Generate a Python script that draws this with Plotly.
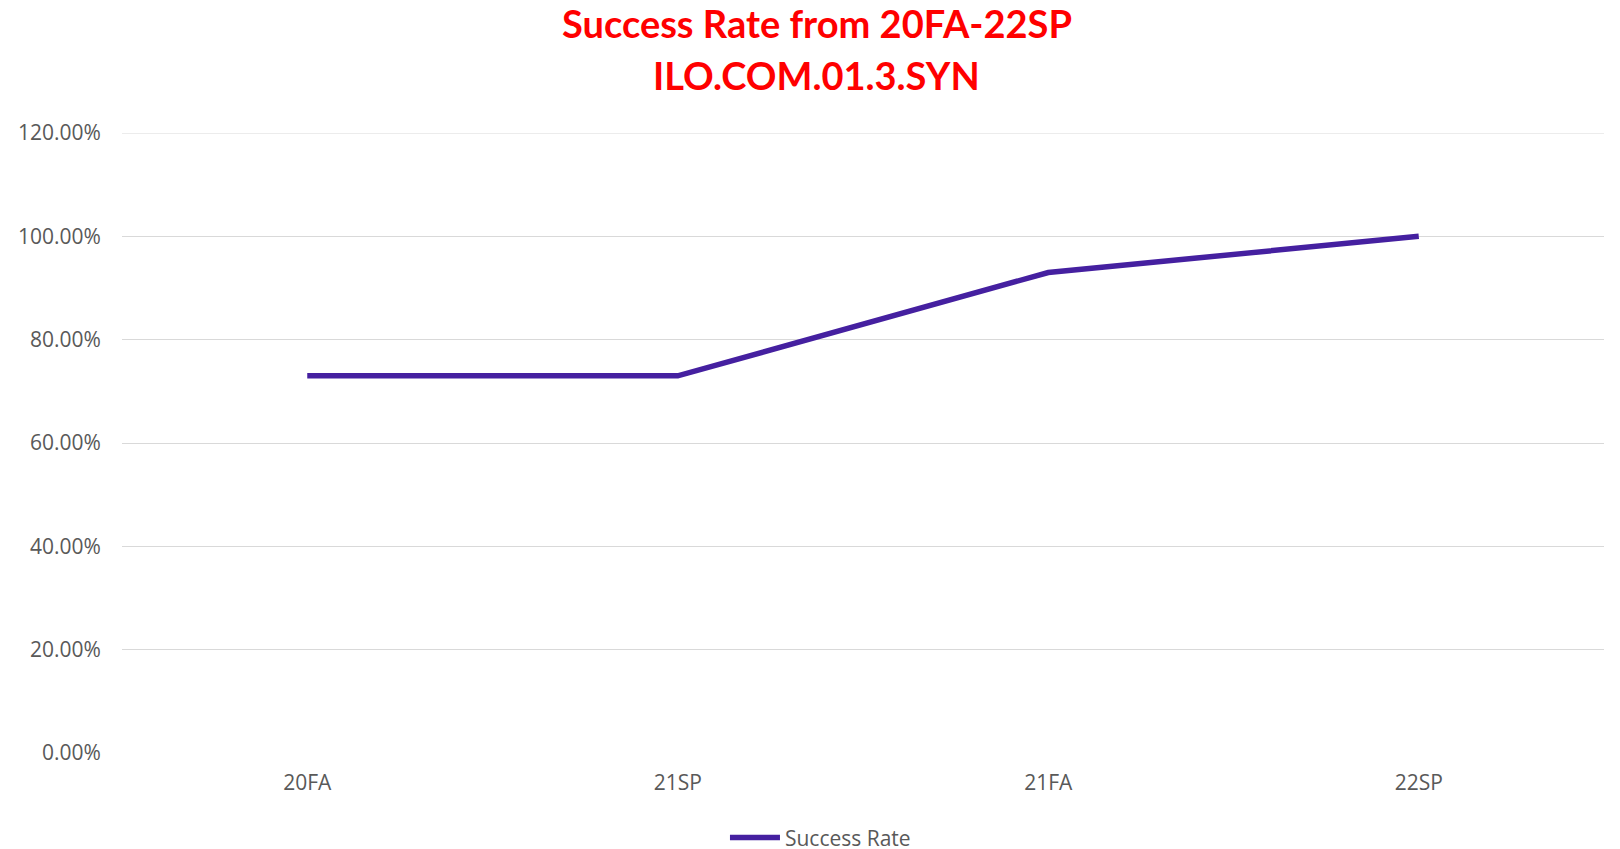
import plotly.graph_objects as go

terms = ["20FA", "21SP", "21FA", "22SP"]
success_rate = [0.73, 0.73, 0.93, 1.00]
y_ticks = [0, 0.2, 0.4, 0.6, 0.8, 1.0, 1.2]
y_tick_labels = ["0.00%", "20.00%", "40.00%", "60.00%", "80.00%", "100.00%", "120.00%"]
title_lines = ["Success Rate from 20FA-22SP", "ILO.COM.01.3.SYN"]

fig = go.Figure()
fig.add_trace(go.Scatter(
    x=terms, y=success_rate, mode="lines", name="Success Rate",
    line=dict(color="#4520A0", width=5.5),
))

# plot area: x 122..1604, y 133..753 (full pixels)
title_y = [1.177, 1.0935]
for txt, ty in zip(title_lines, title_y):
    fig.add_annotation(
        text="<b>" + txt + "</b>", xref="paper", yref="paper",
        x=0.4688, y=ty, xanchor="center", yanchor="middle",
        showarrow=False, font=dict(family="Lato", size=38, color="#FF0000"),
    )

fig.update_layout(
    width=1620, height=849,
    paper_bgcolor="white", plot_bgcolor="white",
    margin=dict(l=122, r=16, t=133, b=96, autoexpand=False),
    font=dict(family="Open Sans", size=16, color="#595959"),
    showlegend=True,
    legend=dict(
        orientation="h", x=0.4713, xanchor="center",
        y=-0.137, yanchor="middle",
        font=dict(size=21, color="#595959"), itemwidth=50,
        bgcolor="rgba(0,0,0,0)",
    ),
    xaxis=dict(
        type="category", range=[-0.5, 3.5], showgrid=False,
        showline=False, zeroline=False, automargin=False,
        ticks="outside", ticklen=11, tickcolor="rgba(0,0,0,0)",
        tickfont=dict(size=21, color="#595959"),
    ),
    yaxis=dict(
        range=[0, 1.2], tickvals=y_ticks, ticktext=y_tick_labels,
        showgrid=True, gridcolor="#D9D9D9", gridwidth=1,
        zeroline=False, showline=False, automargin=False,
        ticks="outside", ticklen=16, tickcolor="rgba(0,0,0,0)",
        tickfont=dict(size=21, color="#595959"),
    ),
    shapes=[dict(type="line", xref="paper", yref="y", x0=0, x1=1, y0=1.2, y1=1.2,
                 line=dict(color="#D9D9D9", width=1), layer="below")],
)

fig.write_html(
    "out.html",
    config={"displayModeBar": False},
    post_script="document.body.style.margin='0';document.body.style.overflow='hidden';",
)
